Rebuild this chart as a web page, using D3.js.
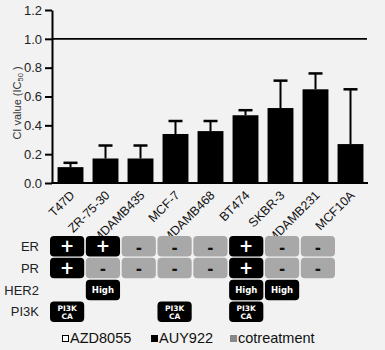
<!DOCTYPE html>
<html><head><meta charset="utf-8">
<script src="https://cdn.jsdelivr.net/npm/d3@7"></script>
<style>
html,body{margin:0;padding:0;background:#f2f2f2;}
svg{display:block;}
</style></head>
<body>
<script>
const categories = ["T47D","ZR-75-30","MDAMB435","MCF-7","MDAMB468","BT474","SKBR-3","MDAMB231","MCF10A"];
const ciValues = [0.11,0.17,0.17,0.34,0.36,0.47,0.52,0.65,0.27];
const ciErrors = [0.03,0.09,0.09,0.09,0.07,0.035,0.19,0.11,0.38];
const yTicks = [0.0,0.2,0.4,0.6,0.8,1.0,1.2];
const refValue = 1.0;
const rowLabels = ["ER","PR","HER2","PI3K"];
const erStatus = ["+","+","-","-","-","+","-","-"];
const prStatus = ["+","-","-","-","-","+","-","-"];
const her2Status = ["","High","","","","High","High",""];
const pi3kStatus = ["CA","","","CA","","CA","",""];
const legendItems = ["AZD8055","AUY922","cotreatment"];

const W=385,H=350;
const svg=d3.select("body").append("svg").attr("width",W).attr("height",H);
svg.append("rect").attr("width",W).attr("height",H).attr("fill","#f2f2f2");
const font="Liberation Sans, Arial, sans-serif";

const x=d3.scaleBand().domain(categories).range([53,368]).paddingInner(0.26).paddingOuter(0.13);
const y=d3.scaleLinear().domain([0,1.2]).range([183,10]);

// bars
const g=svg.append("g");
g.selectAll("rect.bar").data(categories).join("rect")
 .attr("x",d=>x(d)).attr("width",x.bandwidth())
 .attr("y",(d,i)=>y(ciValues[i])).attr("height",(d,i)=>y(0)-y(ciValues[i]))
 .attr("fill","#000");
// error bars
categories.forEach((c,i)=>{
  const cx=x(c)+x.bandwidth()/2;
  g.append("line").attr("x1",cx).attr("x2",cx).attr("y1",y(ciValues[i])).attr("y2",y(ciValues[i]+ciErrors[i])).attr("stroke","#000").attr("stroke-width",2);
  g.append("line").attr("x1",cx-7).attr("x2",cx+7).attr("y1",y(ciValues[i]+ciErrors[i])).attr("y2",y(ciValues[i]+ciErrors[i])).attr("stroke","#000").attr("stroke-width",2.5);
});
// reference line
svg.append("line").attr("x1",52).attr("x2",367).attr("y1",y(refValue)).attr("y2",y(refValue)).attr("stroke","#000").attr("stroke-width",1.8);

// y axis
const yAxis=svg.append("g").attr("transform","translate(52,0)")
 .call(d3.axisLeft(y).tickValues(yTicks).tickFormat(d3.format(".1f")).tickSize(7).tickPadding(3).tickSizeOuter(0));
yAxis.selectAll("path,line").attr("stroke","#000").attr("stroke-width",2);
yAxis.selectAll("text").attr("font-family",font).attr("font-size",13).attr("fill","#222");
// x axis
const xAxis=svg.append("g").attr("transform","translate(0,183)")
 .call(d3.axisBottom(x).tickSize(0).tickSizeOuter(0));
xAxis.select("path").attr("d","M51,0H368").attr("stroke","#000").attr("stroke-width",2);
xAxis.selectAll("text").attr("font-family",font).attr("font-size",12.5).attr("fill","#111")
 .attr("text-anchor","end").attr("x",0).attr("y",0).attr("dy",0)
 .attr("transform","translate(5,13) rotate(-45)");

// y label
svg.append("text").attr("transform","translate(21,103) rotate(-90)").attr("text-anchor","middle")
 .attr("font-family",font).attr("font-size",11).attr("fill","#333")
 .html('CI value (IC<tspan font-size="7.5" dy="1.5">50</tspan><tspan dy="-1.5"> )</tspan>');

// table
const colX=d3.scaleBand().domain(d3.range(8)).range([50,335]).paddingInner(0.045).paddingOuter(0);
const rowY=d3.scaleBand().domain(rowLabels).range([236,322]).paddingInner(0.06);
const rows=[erStatus,prStatus,her2Status,pi3kStatus];
const tg=svg.append("g");
rowLabels.forEach((r,ri)=>{
  tg.append("text").attr("x",39).attr("y",rowY(r)+rowY.bandwidth()/2).attr("dy","0.36em")
   .attr("text-anchor","end").attr("font-family",font).attr("font-size",13).attr("fill","#222").text(r);
  rows[ri].forEach((v,ci)=>{
    if(!v) return;
    const cx=colX(ci),cy=rowY(r),w=colX.bandwidth(),h=rowY.bandwidth();
    const neg=v==="-";
    tg.append("rect").attr("x",cx).attr("y",cy).attr("width",w).attr("height",h).attr("rx",4)
      .attr("fill",neg?"#a8a8a8":"#000");
    const mx=cx+w/2,my=cy+h/2;
    if(v==="+"){
      tg.append("text").attr("x",mx).attr("y",my).attr("dy","0.36em").attr("text-anchor","middle")
       .attr("font-family","DejaVu Sans, sans-serif").attr("font-size",17).attr("font-weight","bold").attr("fill","#fff").text("+");
    } else if(neg){
      tg.append("text").attr("x",mx).attr("y",my+1).attr("dy","0.36em").attr("text-anchor","middle")
       .attr("font-family","DejaVu Sans, sans-serif").attr("font-size",15).attr("font-weight","bold").attr("fill","#111").text("-");
    } else if(v==="High"){
      tg.append("text").attr("x",mx).attr("y",my).attr("dy","0.36em").attr("text-anchor","middle")
       .attr("font-family","DejaVu Sans, sans-serif").attr("font-size",8.5).attr("font-weight","bold").attr("fill","#fff").text("High");
    } else if(v==="CA"){
      const t=tg.append("text").attr("text-anchor","middle")
       .attr("font-family","DejaVu Sans, sans-serif").attr("font-size",7.5).attr("font-weight","bold").attr("fill","#fff");
      t.append("tspan").attr("x",mx).attr("y",my-1).text("PI3K");
      t.append("tspan").attr("x",mx).attr("y",my+7).text("CA");
    }
  });
});

// legend
const legX=[62,151,230];
const legFill=["none","#000","#888"];
legendItems.forEach((l,i)=>{
  svg.append("rect").attr("x",legX[i]+0.5).attr("y",335.5).attr("width",6).attr("height",6)
   .attr("fill",legFill[i]==="none"?"#fff":legFill[i]).attr("stroke",i===2?"#888":"#000").attr("stroke-width",1);
  svg.append("text").attr("x",legX[i]+8).attr("y",343).attr("font-family",font).attr("font-size",14.5).attr("fill","#111").text(l);
});
</script>
</body></html>
